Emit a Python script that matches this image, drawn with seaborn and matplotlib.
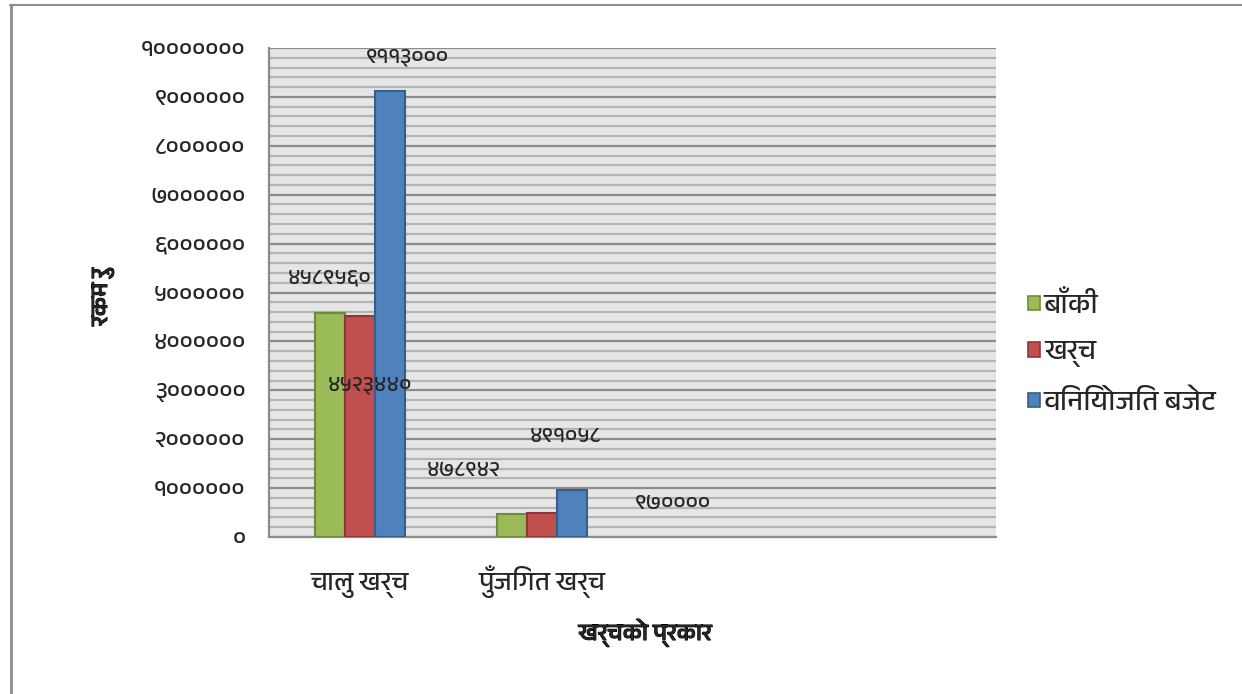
import matplotlib
matplotlib.use("Agg")
import matplotlib.pyplot as plt
import matplotlib.patheffects as pe
import seaborn as sns
import pandas as pd
from matplotlib import font_manager
from matplotlib.ft2font import FT2Font
from matplotlib.patches import Patch
from matplotlib.lines import Line2D
from matplotlib.ticker import MultipleLocator

# ---------------- data ----------------
categories = ["चालु खर्च", "पुँजिगत खर्च"]
series = ["बाँकी", "खर्च", "विनियोजित बजेट"]
remaining = [4589560, 478942]
spent = [4523440, 491058]
budget = [9113000, 970000]
y_ticks = list(range(0, 10000001, 1000000))
x_title = "खर्चको प्रकार"
y_title = "रकम रु"

colors = ["#9BBB59", "#C0504D", "#4F81BD"]
edge_colors = ["#71893F", "#8C3836", "#385D8A"]

DEV = str.maketrans("0123456789", "०१२३४५६७८९")


def dev(n):
    return str(int(n)).translate(DEV)


# ---------------- font ----------------
def find_deva():
    names = []
    for f in font_manager.fontManager.ttflist:
        try:
            cm = FT2Font(f.fname).get_charmap()
        except Exception:
            continue
        if 0x0915 in cm and 0x0966 in cm:
            names.append(f.name)
    pref = [n for n in names if "Devanagari" in n]
    return (pref or names or [None])[0]


sns.set_style("white")
deva = find_deva()
fams = ([deva] if deva else []) + ["DejaVu Sans"]
plt.rcParams["font.family"] = fams

bold_fx = [pe.withStroke(linewidth=0.8, foreground="black")]

# ---------------- frame ----------------
df = pd.DataFrame({
    "cat": categories * 3,
    "series": [s for s in series for _ in categories],
    "value": remaining + spent + budget,
})
order = categories + ["  ", "   "]

fig = plt.figure(figsize=(12.42, 6.94), dpi=100)
ax = fig.add_axes([269 / 1242, 1 - 537 / 694, 727 / 1242, 489 / 694])
ax.set_facecolor("#E6E6E6")

sns.barplot(data=df, x="cat", y="value", hue="series", order=order,
            hue_order=series, palette=colors, width=0.495, ax=ax,
            legend=False, saturation=1)

for cont, ec in zip(ax.containers, edge_colors):
    for p in cont:
        p.set_edgecolor(ec)
        p.set_linewidth(1.5)
        p.set_zorder(3)

ax.set_xlim(-0.5, 3.5)
ax.set_ylim(0, 10000000)
ax.yaxis.set_major_locator(MultipleLocator(1000000))
ax.yaxis.set_minor_locator(MultipleLocator(200000))
ax.set_yticks(y_ticks)
ax.set_yticklabels([dev(v) for v in y_ticks], fontsize=17)
ax.set_xticks(range(len(order)))
ax.set_xticklabels(categories + ["", ""], fontsize=19)
for t in ax.get_xticklabels():
    t.set_va("baseline")
ax.grid(axis="y", which="major", color="#8C8C8C", linewidth=1.6, zorder=1)
ax.grid(axis="y", which="minor", color="#B4B4B4", linewidth=1.6, zorder=1)
ax.grid(axis="x", visible=False)
ax.set_axisbelow(True)
for s in ["top", "right"]:
    ax.spines[s].set_visible(False)
for s in ["left", "bottom"]:
    ax.spines[s].set_color("#8C8C8C")
    ax.spines[s].set_linewidth(1.6)
ax.tick_params(axis="y", which="major", direction="out", length=6,
               width=1.6, color="#8C8C8C", pad=11)
ax.tick_params(axis="y", which="minor", length=0)
ax.tick_params(axis="x", length=0, pad=38)
ax.set_xlabel(x_title, fontsize=17, path_effects=bold_fx)
ax.set_ylabel(y_title, fontsize=17, path_effects=bold_fx)
ax.xaxis.set_label_coords((645 - 269) / 727, -(633 - 537) / 489)
ax.xaxis.label.set_va("center")
ax.yaxis.set_label_coords((103 - 269) / 727, (537 - 297) / 489)
ax.yaxis.label.set_va("center")

# data labels (Excel-style displaced positions, offsets in pixels from bar tops)
offsets = [
    [(0, 35), (-48, 43)],      # remaining
    [(10, -69), (24, 76)],     # spent
    [(18, 34), (101, -14)],    # budget
]
for cont, offs in zip(ax.containers, offsets):
    for p, off in zip(cont, offs):
        h = p.get_height()
        if not h == h:
            continue
        ax.annotate(dev(h), (p.get_x() + p.get_width() / 2, h),
                    xytext=off, textcoords="offset pixels",
                    ha="center", va="center", fontsize=16, zorder=5)

handles = [Patch(facecolor=c, edgecolor=e, linewidth=1.2)
           for c, e in zip(colors, edge_colors)]
fig.legend(handles, series, loc="center left",
           bbox_to_anchor=(1017 / 1242, 1 - 353 / 694), frameon=False,
           fontsize=20, handlelength=0.42, handleheight=0.42,
           handletextpad=0.15, labelspacing=0.8, borderaxespad=0)

# outer frame lines (top and left)
fig.add_artist(Line2D([10 / 1242, 1], [1 - 5 / 694, 1 - 5 / 694],
                      color="#8C8C8C", linewidth=1.5))
fig.add_artist(Line2D([11 / 1242, 11 / 1242], [0, 1 - 5 / 694],
                      color="#8C8C8C", linewidth=2))

fig.savefig("out.png", dpi=100)
